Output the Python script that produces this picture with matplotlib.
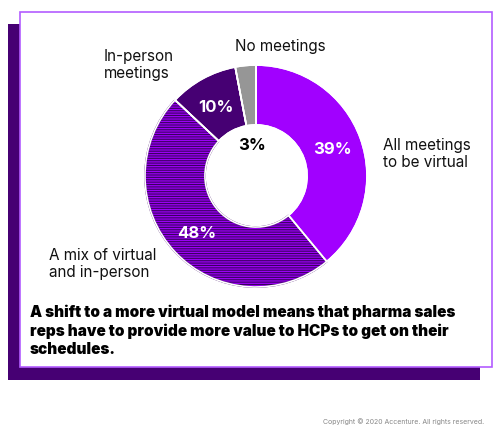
import matplotlib
matplotlib.use("Agg")
import matplotlib.pyplot as plt
from matplotlib.patches import Rectangle

# Data
categories = ["All meetings\nto be virtual", "A mix of virtual\nand in-person", "In-person\nmeetings", "No meetings"]
values = [39, 48, 10, 3]
pct_labels = ["39%", "48%", "10%", "3%"]
caption = ("A shift to a more virtual model means that pharma sales\n"
           "reps have to provide more value to HCPs to get on their\n"
           "schedules.")
copyright_text = "Copyright \u00a9 2020 Accenture. All rights reserved."

W, H = 500, 429
DPI = 100
plt.rcParams['hatch.linewidth'] = 0.8
plt.rcParams['font.family'] = ['Inter', 'DejaVu Sans']

fig = plt.figure(figsize=(W / DPI, H / DPI), dpi=DPI)
fig.patch.set_facecolor('white')

def fx(x):
    return x / W

def fy(y):
    return 1 - y / H

# Background boxes
bg = fig.add_axes([0, 0, 1, 1])
bg.set_xlim(0, W)
bg.set_ylim(H, 0)
bg.axis('off')
bg.add_patch(Rectangle((8, 24), 472, 356, facecolor='#460073', edgecolor='none'))
bg.add_patch(Rectangle((20, 12), 471.5, 355, facecolor='white', edgecolor='#B35CFF', linewidth=1.2))

# Donut
cx, cy, R = 256, 176, 111
ax = fig.add_axes([fx(cx - R), fy(cy + R), 2 * R / W, 2 * R / H])
colors = ['#A100FF', '#8A00E6', '#460073', '#969696']
wedges, _ = ax.pie(values, colors=colors, startangle=90, counterclock=False,
                   radius=1.0, wedgeprops=dict(width=0.54, edgecolor='white', linewidth=1.2))
wedges[1].set_facecolor('#9B00F5')
wedges[1].set_hatch('-' * 7)
wedges[1].set_edgecolor('#3A0060')
# redraw white separators for hatched wedge
ax.pie(values, colors=['none'] * 4, startangle=90, counterclock=False, radius=1.0,
       wedgeprops=dict(width=0.54, edgecolor='white', linewidth=1.2, fill=False))
ax.set_xlim(-1, 1)
ax.set_ylim(-1, 1)
ax.set_aspect('auto')
ax.axis('off')

# Percent labels
pct_pos = [(332, 150), (197, 234), (216, 107), (252, 145)]
pct_col = ['white', 'white', 'white', 'black']
for lab, (x, y), c in zip(pct_labels, pct_pos, pct_col):
    fig.text(fx(x), fy(y), lab, color=c, fontsize=12, fontweight='bold',
             ha='center', va='center')

# Category labels
cat_pos = [(383, 154), (49, 264), (104, 65), (235, 47)]
for lab, (x, y) in zip(categories, cat_pos):
    fig.text(fx(x), fy(y), lab, color='#111111', fontsize=11, ha='left', va='center',
             linespacing=1.15)

# Caption
fig.text(fx(30), fy(331), caption, color='black', fontsize=11, fontweight='black',
         ha='left', va='center', linespacing=1.25)

# Copyright
fig.text(fx(484), fy(422), copyright_text, color='#888888', fontsize=5,
         ha='right', va='center')

fig.savefig('out.png', dpi=DPI)
